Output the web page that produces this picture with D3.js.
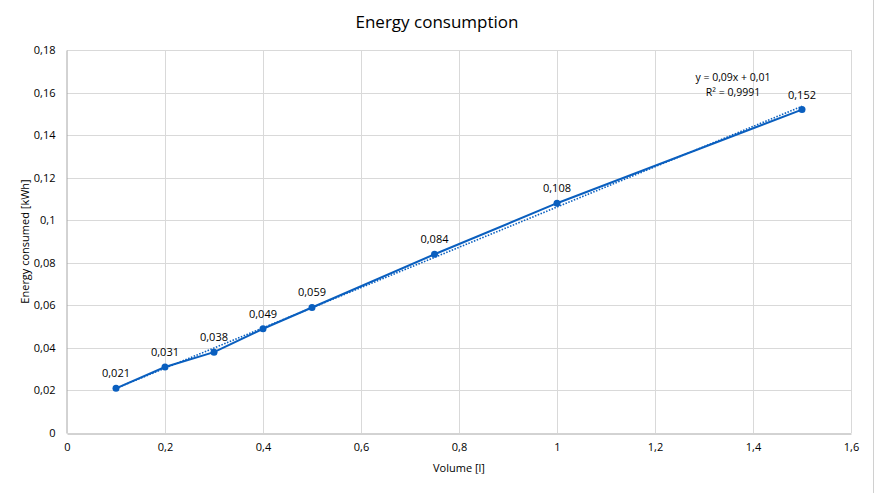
<!DOCTYPE html>
<html><head><meta charset="utf-8">
<script src="https://cdn.jsdelivr.net/npm/d3@7"></script>
<style>body{margin:0;background:#fff}svg{display:block}text{font-family:"Open Sans","Liberation Sans",sans-serif}</style>
</head><body><svg id="c" width="875" height="493"></svg>
<script>
const volumes = [0.1, 0.2, 0.3, 0.4, 0.5, 0.75, 1, 1.5];
const energy = [0.021, 0.031, 0.038, 0.049, 0.059, 0.084, 0.108, 0.152];
const labels = ["0,021","0,031","0,038","0,049","0,059","0,084","0,108","0,152"];
const xTicks = [0,0.2,0.4,0.6,0.8,1,1.2,1.4,1.6];
const yTicks = [0,0.02,0.04,0.06,0.08,0.1,0.12,0.14,0.16,0.18];
const trendText = ["y = 0,09x + 0,01", "R² = 0,9991"];

const svg = d3.select("#c");
const x = d3.scaleLinear().domain([0,1.6]).range([67,851]);
const y = d3.scaleLinear().domain([0,0.18]).range([433,50]);
const fmt = v => String(+v.toFixed(2)).replace(".", ",");
const blue = "#0a5fbf";

// outer border (right)
svg.append("line").attr("x1",873.5).attr("x2",873.5).attr("y1",0).attr("y2",493).attr("stroke","#d0d0d0");

// grid
svg.append("g").selectAll("line").data(yTicks.slice(1)).join("line")
  .attr("x1",67).attr("x2",851).attr("y1",d=>Math.round(y(d))+0.5).attr("y2",d=>Math.round(y(d))+0.5)
  .attr("stroke","#d9d9d9");
svg.append("g").selectAll("line").data(xTicks.slice(1)).join("line")
  .attr("y1",50).attr("y2",433).attr("x1",d=>Math.round(x(d))+0.5).attr("x2",d=>Math.round(x(d))+0.5)
  .attr("stroke","#d9d9d9");

// axes
const xa = svg.append("g").attr("transform","translate(0,433.5)")
  .call(d3.axisBottom(x).tickValues(xTicks).tickFormat(fmt).tickSize(0).tickPadding(10));
xa.select(".domain").attr("stroke","#a6a6a6");
const ya = svg.append("g").attr("transform","translate(66.5,0)")
  .call(d3.axisLeft(y).tickValues(yTicks).tickFormat(fmt).tickSize(0).tickPadding(11));
ya.select(".domain").attr("stroke","#a6a6a6");
svg.selectAll(".tick text").attr("font-size",11).attr("fill","#000").attr("font-family","'Open Sans',sans-serif");

// trendline (linear regression)
const n = volumes.length;
const mx = d3.mean(volumes), my = d3.mean(energy);
let sxy=0,sxx=0; volumes.forEach((v,i)=>{sxy+=(v-mx)*(energy[i]-my);sxx+=(v-mx)*(v-mx);});
const slope = sxy/sxx, icpt = my - slope*mx;
const x0 = d3.min(volumes), x1 = d3.max(volumes);
svg.append("line").attr("x1",x(x0)).attr("y1",y(slope*x0+icpt)).attr("x2",x(x1)).attr("y2",y(slope*x1+icpt))
  .attr("stroke",blue).attr("stroke-width",1.6).attr("stroke-dasharray","1.5,1.5");

// series line
svg.append("path").datum(volumes.map((v,i)=>[v,energy[i]]))
  .attr("d", d3.line().x(d=>x(d[0])).y(d=>y(d[1])))
  .attr("fill","none").attr("stroke",blue).attr("stroke-width",2);
svg.append("g").selectAll("circle").data(volumes).join("circle")
  .attr("cx",d=>x(d)).attr("cy",(d,i)=>y(energy[i])).attr("r",3.5).attr("fill",blue);
svg.append("g").selectAll("text").data(volumes).join("text")
  .attr("x",d=>x(d)).attr("y",(d,i)=>y(energy[i])-11).attr("text-anchor","middle")
  .attr("font-size",11).text((d,i)=>labels[i]);

// trend label
svg.append("g").selectAll("text").data(trendText).join("text")
  .attr("x",733).attr("y",(d,i)=>81+i*15).attr("text-anchor","middle").attr("font-size",10.5).text(d=>d);

// titles
svg.append("text").attr("x",437).attr("y",28).attr("text-anchor","middle").attr("font-size",17).text("Energy consumption");
svg.append("text").attr("x",459).attr("y",472).attr("text-anchor","middle").attr("font-size",11).text("Volume [l]");
svg.append("text").attr("transform","translate(29,241.5) rotate(-90)").attr("text-anchor","middle").attr("font-size",11).text("Energy consumed [kWh]");
</script></body></html>
